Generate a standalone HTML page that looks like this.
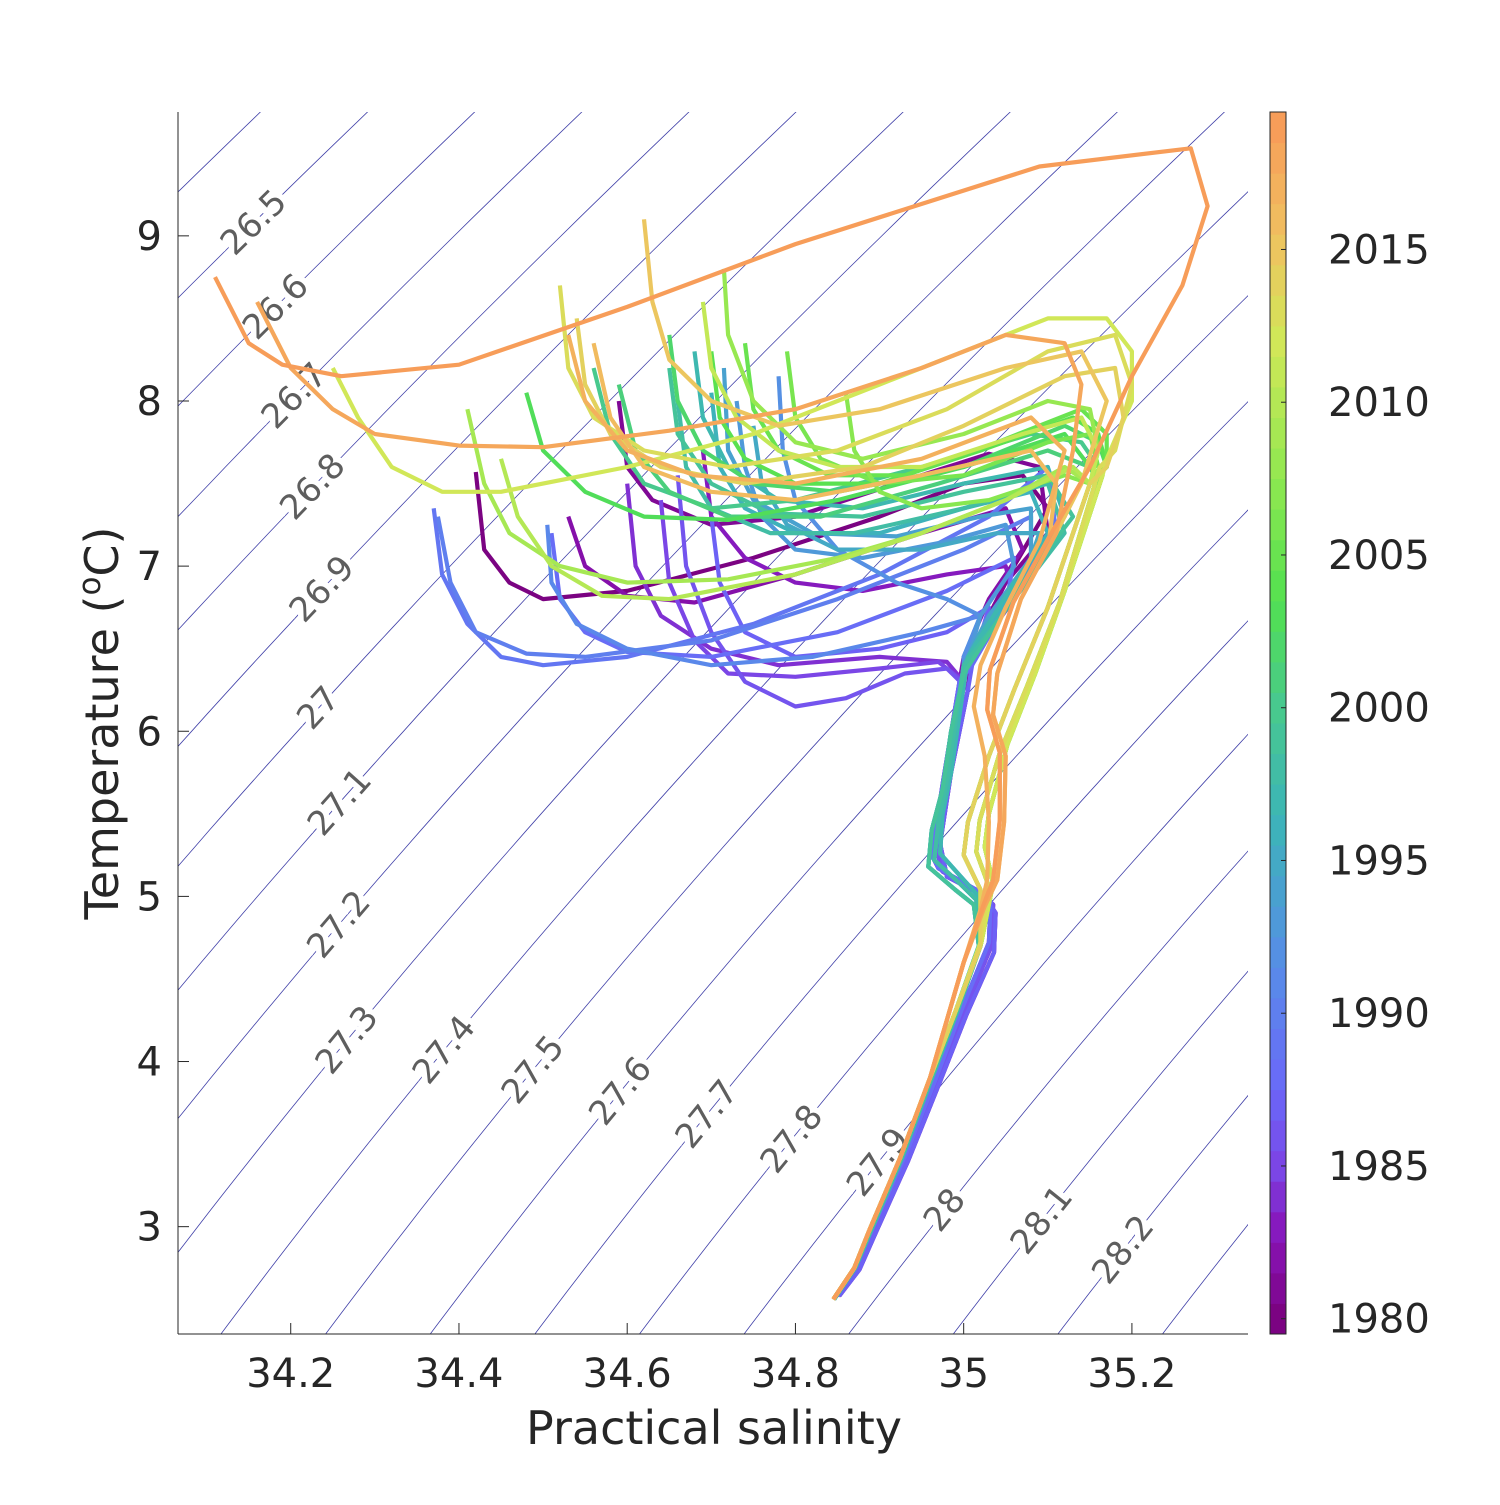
<!DOCTYPE html>
<html><head><meta charset="utf-8"><style>
body{margin:0;background:#fff}
svg text{font-family:"DejaVu Sans","Liberation Sans",sans-serif}
</style></head><body>
<svg id="chart" width="1500" height="1500" viewBox="0 0 1500 1500" xmlns="http://www.w3.org/2000/svg">
<defs><clipPath id="pc"><rect x="178" y="112" width="1070" height="1222"/></clipPath></defs>
<rect width="1500" height="1500" fill="#fff"/>
<g id="contours" clip-path="url(#pc)"></g>
<g id="clabels"></g>
<g id="profiles" clip-path="url(#pc)"></g>
<g id="axes"></g>
<g id="cbar"></g>
<text x="714" y="1444" font-size="46" fill="#262626" text-anchor="middle">Practical salinity</text>
<text transform="translate(118,723) rotate(-90)" font-size="46" fill="#262626" text-anchor="middle">Temperature (<tspan font-size="31" dy="-18">o</tspan><tspan dy="18">C)</tspan></text>
</svg>
<script>
const xTicks=[34.2,34.4,34.6,34.8,35,35.2];
const yTicks=[3,4,5,6,7,8,9];
const cbTicks=[1980,1985,1990,1995,2000,2005,2010,2015];
const levels=[26.0,26.1,26.2,26.3,26.4,26.5,26.6,26.7,26.8,26.9,27,27.1,27.2,27.3,27.4,27.5,27.6,27.7,27.8,27.9,28,28.1,28.2,28.3,28.4,28.5];
const labelLevels=[26.5,26.6,26.7,26.8,26.9,27,27.1,27.2,27.3,27.4,27.5,27.6,27.7,27.8,27.9,28,28.1,28.2];
const labelTemps=[9.08,8.57,8.03,7.48,6.86,6.14,5.57,4.83,4.13,4.07,3.95,3.82,3.68,3.53,3.39,3.10,3.04,2.86];
const anchorS=[34.161,34.181,34.220,34.223,34.237,34.258,34.277,34.296,34.410,34.497,34.594,34.686,34.781,34.867,34.960,35.088,35.194,34.861,34.998,35.120,34.733,34.173,34.295];
const anchorT=[9.085,8.025,7.481,6.857,6.143,5.568,4.829,4.133,4.073,3.952,3.818,3.679,3.528,3.389,3.104,3.043,2.862,2.35,2.35,2.35,2.35,9.75,9.75];
const anchorLev=[26.5,26.7,26.8,26.9,27.0,27.1,27.2,27.3,27.4,27.5,27.6,27.7,27.8,27.9,28.0,28.1,28.2,28.0,28.1,28.2,27.9,26.4,26.5];
const stemsP=[
[35.0,6.3,34.98,5.7,34.968,5.28,34.975,5.15,35.02,5.02,35.035,4.95,35.033,4.7,35.0,4.3,34.97,3.9,34.932,3.41,34.894,2.98,34.874,2.75,34.85,2.58],
[35.005,6.25,34.985,5.75,34.972,5.32,34.98,5.12,35.025,5.0,35.038,4.9,35.036,4.66,35.003,4.28,34.972,3.88,34.934,3.4,34.896,2.97,34.876,2.74,34.852,2.58],
[34.995,6.3,34.975,5.68,34.962,5.25,34.97,5.17,35.015,5.04,35.032,4.97,35.03,4.72,34.998,4.32,34.968,3.91,34.93,3.42,34.892,2.99,34.872,2.76,34.849,2.58]];
const stemsT=[
[35.0,6.4,34.99,6.05,34.98,5.7,34.97,5.45,34.965,5.22,34.995,5.08,35.015,4.98,35.02,4.7,34.992,4.3,34.962,3.9,34.926,3.41,34.89,2.98,34.871,2.75,34.846,2.56],
[35.0,6.35,34.985,6.0,34.975,5.65,34.962,5.4,34.958,5.18,34.99,5.04,35.012,4.95,35.018,4.7,34.99,4.3,34.96,3.9,34.924,3.41,34.888,2.98,34.87,2.75,34.845,2.56],
[35.005,6.45,34.995,6.1,34.985,5.75,34.975,5.5,34.972,5.26,35.0,5.1,35.018,5.0,35.021,4.72,34.993,4.31,34.963,3.91,34.927,3.42,34.891,2.99,34.872,2.76,34.846,2.56]];
const stemsG=[
[35.162,7.6,35.114,6.78,35.075,6.27,35.043,5.87,35.019,5.46,35.015,5.27,35.03,5.06,35.02,4.72,34.99,4.3,34.96,3.9,34.924,3.41,34.888,2.98,34.87,2.75,34.845,2.56],
[35.15,7.5,35.1,6.75,35.06,6.25,35.03,5.85,35.005,5.45,35.0,5.25,35.02,5.04,35.02,4.7,34.99,4.3,34.96,3.9,34.924,3.41,34.888,2.98,34.87,2.75,34.845,2.56],
[35.165,7.55,35.12,6.85,35.085,6.35,35.052,5.92,35.03,5.5,35.025,5.3,35.035,5.08,35.021,4.72,34.99,4.3,34.96,3.9,34.924,3.41,34.888,2.98,34.87,2.75,34.845,2.56]];
const stemsO=[
[35.102,7.18,35.059,6.78,35.031,6.37,35.028,6.13,35.043,5.87,35.043,5.46,35.035,5.1,35.023,4.94,35.0,4.6,34.96,3.9,34.924,3.41,34.888,2.98,34.87,2.75,34.845,2.56],
[35.09,7.15,35.05,6.75,35.02,6.4,35.012,6.15,35.025,5.85,35.03,5.45,35.028,5.1,35.02,4.92,35.0,4.6,34.96,3.9,34.924,3.41,34.888,2.98,34.87,2.75,34.845,2.56],
[35.11,7.2,35.068,6.8,35.04,6.35,35.035,6.1,35.05,5.85,35.048,5.45,35.04,5.1,35.025,4.94,35.0,4.6,34.96,3.9,34.924,3.41,34.888,2.98,34.87,2.75,34.845,2.56]];
const firstYear=1980;
const bodies=[
[34.42,7.57,34.43,7.1,34.46,6.9,34.5,6.8,34.6,6.85,34.75,7.05,34.9,7.3,35.0,7.5,35.07,7.55,35.1,7.35,35.06,7.0,35.02,6.6],
[34.59,8.0,34.6,7.6,34.63,7.4,34.7,7.25,34.8,7.3,34.95,7.55,35.03,7.68,35.09,7.6,35.1,7.2,35.05,6.9,35.01,6.5],
[34.53,7.3,34.55,7.0,34.6,6.82,34.68,6.78,34.8,6.95,34.95,7.2,35.05,7.35,35.07,7.1,35.03,6.8,35.0,6.45],
[34.69,7.7,34.7,7.3,34.74,7.05,34.8,6.9,34.88,6.85,34.98,6.95,35.05,7.0,35.06,6.8,35.01,6.45],
[34.6,7.5,34.61,7.0,34.64,6.7,34.7,6.5,34.78,6.4,34.9,6.45,34.98,6.42,35.0,6.3],
[34.64,7.4,34.65,6.9,34.68,6.55,34.72,6.35,34.8,6.33,34.9,6.38,34.97,6.42,35.0,6.3],
[34.66,7.55,34.67,7.0,34.7,6.6,34.74,6.3,34.8,6.15,34.86,6.2,34.93,6.35,34.98,6.38,35.0,6.28],
[34.7,7.3,34.71,6.9,34.74,6.6,34.8,6.45,34.9,6.5,34.98,6.6,35.03,6.75,35.01,6.4],
[34.51,7.2,34.52,6.8,34.55,6.6,34.6,6.48,34.7,6.45,34.85,6.6,34.98,6.85,35.06,7.05,35.05,6.75,35.01,6.4],
[34.37,7.35,34.38,6.95,34.41,6.65,34.45,6.45,34.5,6.4,34.6,6.45,34.75,6.65,34.9,6.95,35.03,7.3,35.1,7.6,35.11,7.2,35.05,6.8,35.01,6.5],
[34.375,7.3,34.39,6.9,34.42,6.6,34.48,6.47,34.55,6.45,34.7,6.55,34.85,6.8,35.0,7.1,35.08,7.3,35.08,7.0,35.03,6.7,35.0,6.4],
[34.505,7.25,34.51,6.9,34.54,6.65,34.6,6.5,34.7,6.4,34.82,6.45,34.95,6.6,35.02,6.7,35.0,6.45],
[34.78,8.15,34.785,7.7,34.8,7.4,34.85,7.1,34.92,6.9,34.98,6.8,35.02,6.7,35.0,6.45],
[34.73,8.0,34.74,7.6,34.76,7.3,34.8,7.1,34.88,7.05,34.98,7.15,35.05,7.25,35.06,7.0,35.02,6.7],
[34.715,8.2,34.72,7.7,34.75,7.4,34.82,7.2,34.92,7.18,35.02,7.3,35.08,7.35,35.08,7.05,35.03,6.7],
[34.75,7.85,34.76,7.5,34.79,7.25,34.85,7.1,34.95,7.1,35.04,7.2,35.09,7.2,35.07,6.9,35.02,6.6],
[34.7,8.05,34.71,7.6,34.74,7.35,34.8,7.2,34.9,7.2,35.0,7.35,35.08,7.45,35.1,7.2,35.05,6.8],
[34.68,8.3,34.69,7.9,34.72,7.6,34.78,7.4,34.88,7.35,35.0,7.5,35.1,7.6,35.12,7.3,35.06,6.9],
[34.66,8.0,34.67,7.6,34.7,7.35,34.77,7.2,34.87,7.2,35.0,7.35,35.1,7.5,35.12,7.2,35.06,6.8],
[34.65,8.2,34.66,7.8,34.7,7.5,34.77,7.32,34.88,7.3,35.0,7.45,35.1,7.55,35.13,7.3,35.07,6.9],
[34.56,8.2,34.58,7.8,34.62,7.5,34.7,7.35,34.8,7.4,34.95,7.6,35.08,7.8,35.14,7.75,35.16,7.6],
[34.59,8.1,34.61,7.7,34.65,7.45,34.72,7.3,34.83,7.3,34.97,7.5,35.1,7.7,35.15,7.6,35.16,7.5],
[34.65,8.4,34.66,8.0,34.69,7.7,34.75,7.5,34.85,7.45,35.0,7.6,35.12,7.85,35.16,7.75,35.17,7.6],
[34.48,8.05,34.5,7.7,34.55,7.45,34.62,7.3,34.72,7.28,34.85,7.4,35.0,7.6,35.12,7.8,35.15,7.6,35.16,7.55],
[34.7,8.3,34.71,7.9,34.74,7.65,34.8,7.5,34.9,7.5,35.02,7.7,35.13,7.9,35.16,7.8,35.17,7.6],
[34.74,8.35,34.75,7.95,34.78,7.7,34.84,7.55,34.93,7.55,35.04,7.75,35.14,7.95,35.17,7.8,35.17,7.6],
[34.79,8.3,34.8,7.9,34.83,7.65,34.9,7.5,35.0,7.55,35.1,7.75,35.15,7.8,35.16,7.6],
[34.86,8.05,34.87,7.7,34.9,7.45,34.95,7.35,35.03,7.4,35.12,7.55,35.15,7.5],
[34.715,8.8,34.72,8.4,34.75,8.0,34.8,7.75,34.88,7.65,35.0,7.8,35.1,8.0,35.15,7.95,35.16,7.7],
[34.41,7.95,34.43,7.5,34.46,7.2,34.52,7.0,34.6,6.9,34.72,6.92,34.85,7.05,34.95,7.2,35.05,7.4,35.12,7.6,35.15,7.5],
[34.45,7.65,34.47,7.3,34.51,7.0,34.57,6.82,34.65,6.8,34.8,6.95,34.95,7.2,35.05,7.4,35.13,7.6,35.15,7.5],
[34.69,8.6,34.7,8.2,34.73,7.9,34.78,7.7,34.85,7.6,34.95,7.6,35.07,7.8,35.14,7.9,35.16,7.7],
[34.25,8.2,34.28,7.9,34.32,7.6,34.38,7.45,34.45,7.45,34.6,7.6,34.75,7.8,34.9,8.1,35.0,8.3,35.1,8.5,35.17,8.5,35.2,8.3,35.2,8.0,35.17,7.65],
[34.52,8.7,34.53,8.2,34.56,7.9,34.62,7.7,34.72,7.6,34.85,7.7,34.98,7.95,35.1,8.3,35.18,8.4,35.2,8.1,35.18,7.7],
[34.54,8.5,34.55,8.1,34.58,7.8,34.64,7.6,34.74,7.5,34.88,7.6,35.0,7.85,35.12,8.15,35.18,8.2,35.19,7.9,35.17,7.6],
[34.62,9.1,34.63,8.6,34.65,8.25,34.7,8.0,34.78,7.85,34.9,7.95,35.05,8.2,35.14,8.3,35.17,8.0,35.14,7.5],
[34.56,8.35,34.58,7.9,34.62,7.6,34.7,7.45,34.8,7.4,34.95,7.55,35.08,7.7,35.11,7.5],
[34.53,8.4,34.55,8.0,34.6,7.7,34.68,7.55,34.8,7.5,34.95,7.65,35.08,7.9,35.12,7.7],
[34.16,8.6,34.2,8.2,34.25,7.95,34.3,7.8,34.4,7.73,34.5,7.72,34.65,7.82,34.8,7.95,34.95,8.2,35.05,8.4,35.12,8.35,35.14,8.1,35.13,7.7],
[34.11,8.75,34.15,8.35,34.19,8.22,34.26,8.15,34.4,8.22,34.6,8.57,34.8,8.95,35.09,9.42,35.27,9.53,35.29,9.18,35.26,8.7,35.2,8.15,35.15,7.6]
];
const NS='http://www.w3.org/2000/svg';
const L=178,R=1248,Tp=112,B=1334;
const Smin=34.066,Smax=35.338,Tmin=2.35,Tmax=9.75;
function xs(s){return L+(s-Smin)/(Smax-Smin)*(R-L);}
function ys(t){return B-(t-Tmin)/(Tmax-Tmin)*(B-Tp);}
const cbMin=1979.5,cbMax=2019.5,cbX=1270,cbW=16;
function cy(yr){return B-(yr-cbMin)/(cbMax-cbMin)*(B-Tp);}
function el(tag,at,parent){const e=document.createElementNS(NS,tag);for(const k in at)e.setAttribute(k,at[k]);parent.appendChild(e);return e;}
const stops=[[0,[120,0,120]],[0.08,[136,20,184]],[0.14,[122,72,232]],[0.2,[106,104,248]],[0.3,[88,140,232]],[0.42,[60,180,184]],[0.51,[72,200,144]],[0.6,[82,224,80]],[0.7,[144,232,80]],[0.81,[208,232,88]],[0.9,[240,192,96]],[1,[248,152,88]]];
function cmap(f){f=Math.max(0,Math.min(1,f));for(let i=1;i<stops.length;i++){if(f<=stops[i][0]){const a=stops[i-1],b=stops[i],u=(f-a[0])/(b[0]-a[0]);return 'rgb('+a[1].map((v,j)=>Math.round(v+(b[1][j]-v)*u)).join(',')+')';}}return 'rgb(248,152,88)';}
function sig0(S,T){S=S*35.16504/35;
const rw=999.842594+6.793952e-2*T-9.095290e-3*T*T+1.001685e-4*T**3-1.120083e-6*T**4+6.536332e-9*T**5;
return rw+S*(0.824493-4.0899e-3*T+7.6438e-5*T*T-8.2467e-7*T**3+5.3875e-9*T**4)+S**1.5*(-5.72466e-3+1.0227e-4*T-1.6546e-6*T*T)+4.8314e-4*S*S-1000;}
const M=[[0,0,0],[0,0,0],[0,0,0]],V=[0,0,0];
anchorS.forEach((s,i)=>{const t=anchorT[i];const r=anchorLev[i]-sig0(s,t);const b=[1,t,t*t];
for(let a=0;a<3;a++){V[a]+=b[a]*r;for(let c=0;c<3;c++)M[a][c]+=b[a]*b[c];}});
function solve3(A,y){A=A.map((r,i)=>r.concat([y[i]]));for(let i=0;i<3;i++){let p=i;for(let k=i+1;k<3;k++)if(Math.abs(A[k][i])>Math.abs(A[p][i]))p=k;[A[i],A[p]]=[A[p],A[i]];
for(let k=0;k<3;k++){if(k===i)continue;const f=A[k][i]/A[i][i];for(let c=i;c<4;c++)A[k][c]-=f*A[i][c];}}return A.map((r,i)=>r[3]/r[i]);}
const C=solve3(M,V);
function sig(S,T){return sig0(S,T)+C[0]+C[1]*T+C[2]*T*T;}
function solveS(lev,T){let S=35;for(let i=0;i<30;i++){S+=(lev-sig(S,T))/0.78;}return S;}
const cg=document.getElementById('contours');
levels.forEach(lev=>{let d='';for(let t=1.5;t<=10.6;t+=0.1){const s=solveS(lev,t);d+=(d?'L':'M')+xs(s).toFixed(1)+','+ys(t).toFixed(1);}
const p=el('path',{d:d,fill:'none',stroke:'#4040a8','stroke-width':'0.8'},cg);

});
const lg=document.getElementById('clabels');
labelLevels.forEach((lev,i)=>{const t=labelTemps[i];const s=solveS(lev,t);const x=xs(s),y=ys(t);
const x2=xs(solveS(lev,t+0.2)),y2=ys(t+0.2);const ang=Math.atan2(y2-y,x2-x)*180/Math.PI;
const tx=el('text',{x:0,y:0,transform:'translate('+x.toFixed(1)+','+y.toFixed(1)+') rotate('+ang.toFixed(1)+')','font-size':'34',fill:'#5e5e5e','text-anchor':'middle','dominant-baseline':'central',stroke:'#fff','stroke-width':'11','paint-order':'stroke'},lg);
tx.textContent=String(lev);

});
const pg=document.getElementById('profiles');
bodies.forEach((b,i)=>{const yr=firstYear+i;const grp=yr<1989?stemsP:yr<2000?stemsT:yr<2015?stemsG:stemsO;const a=b.concat(grp[i%3]);
let d='';for(let k=0;k<a.length;k+=2){d+=(k?'L':'M')+xs(a[k]).toFixed(1)+','+ys(a[k+1]).toFixed(1);}
const p=el('path',{d:d,fill:'none',stroke:cmap((yr-cbMin)/(cbMax-cbMin)),'stroke-width':'4.2','stroke-linejoin':'round'},pg);

});
const ag=document.getElementById('axes');
el('line',{x1:L,y1:Tp,x2:L,y2:B,stroke:'#262626','stroke-width':'1'},ag);
el('line',{x1:L,y1:B,x2:R,y2:B,stroke:'#262626','stroke-width':'1'},ag);
xTicks.forEach(v=>{const x=xs(v);el('line',{x1:x,y1:B,x2:x,y2:B-11,stroke:'#262626'},ag);
const t=el('text',{x:x,y:B+53,'font-size':'40',fill:'#262626','text-anchor':'middle'},ag);t.textContent=String(v);

});
yTicks.forEach(v=>{const y=ys(v);el('line',{x1:L,y1:y,x2:L+11,y2:y,stroke:'#262626'},ag);
const t=el('text',{x:L-16,y:y+14,'font-size':'40',fill:'#262626','text-anchor':'end'},ag);t.textContent=String(v);

});
const cb=document.getElementById('cbar');
for(let yr=1980;yr<=2019;yr++){const r=el('rect',{x:cbX,y:cy(yr+0.5),width:cbW,height:(cy(yr-0.5)-cy(yr+0.5))+0.5,fill:cmap((yr-cbMin)/(cbMax-cbMin))},cb);

}
el('rect',{x:cbX,y:Tp,width:cbW,height:B-Tp,fill:'none',stroke:'#262626','stroke-width':'1'},cb);
cbTicks.forEach(v=>{const y=cy(v);el('line',{x1:cbX+cbW-5,y1:y,x2:cbX+cbW,y2:y,stroke:'#262626'},cb);
const t=el('text',{x:1328,y:y+14,'font-size':'40',fill:'#262626'},cb);t.textContent=String(v);

});
</script>
</body></html>
